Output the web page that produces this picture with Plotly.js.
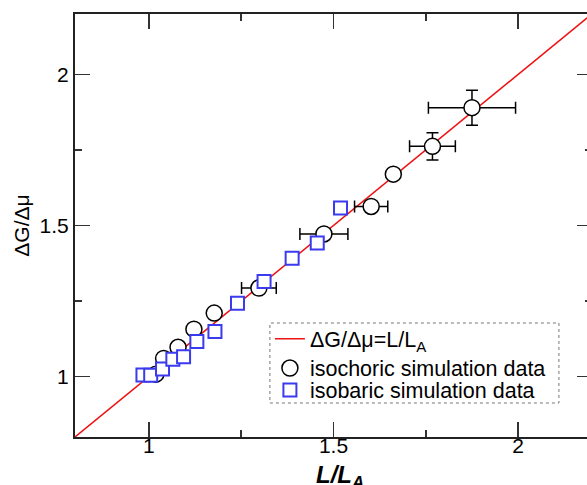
<!DOCTYPE html>
<html><head><meta charset="utf-8">
<script src="https://cdn.plot.ly/plotly-3.0.1.min.js"></script>
<style>html,body{margin:0;padding:0;overflow:hidden;background:#fff;}#chart{width:600px;height:485px;}</style>
</head><body><div id="chart"></div>
<script>
// Reference line ΔG/Δμ = L/L_A
const lineX = [0.8, 2.2];
const lineY = [0.8, 2.2];
// isochoric simulation data
const isoX = [1.019, 1.040, 1.079, 1.122, 1.177, 1.298, 1.474, 1.602, 1.662, 1.768, 1.875];
const isoY = [1.008, 1.060, 1.097, 1.157, 1.210, 1.293, 1.472, 1.563, 1.670, 1.762, 1.890];
const isoXerr = [0, 0, 0, 0, 0, 0.047, 0.065, 0.045, 0, 0.062, 0.118];
const isoYerr = [0, 0, 0, 0, 0, 0, 0, 0, 0, 0.045, 0.058];
// isobaric simulation data
const barX = [0.984, 1.005, 1.037, 1.065, 1.094, 1.130, 1.179, 1.240, 1.312, 1.388, 1.456, 1.519];
const barY = [1.005, 1.004, 1.025, 1.057, 1.066, 1.116, 1.149, 1.243, 1.315, 1.392, 1.442, 1.558];
// tick labels
const tickVals = [1, 1.5, 2];
const tickText = ['1', '1.5', '2'];
const axisMin = 0.8, axisMax = 2.2;

const FONT = 'Liberation Sans, Arial, sans-serif';
const traces = [
  {x: lineX, y: lineY, mode: 'lines', name: 'ΔG/Δμ=L/L<sub>A</sub>', legend: 'legend',
   line: {color: '#ee1111', width: 1.5}},
  {x: isoX, y: isoY, mode: 'markers', name: 'isochoric simulation data', legend: 'legend2',
   marker: {symbol: 'circle', size: 16, color: '#ffffff', line: {color: '#000000', width: 1.5}},
   error_x: {type: 'data', array: isoXerr, color: '#000', thickness: 1.5, width: 6},
   error_y: {type: 'data', array: isoYerr, color: '#000', thickness: 1.5, width: 6}},
  {x: barX, y: barY, mode: 'markers', name: 'isobaric simulation data', legend: 'legend3',
   marker: {symbol: 'square', size: 13, color: '#ffffff', line: {color: '#3a3aee', width: 2}}},
  // x tick labels, drawn through the x scale just below the axis
  {x: tickVals, y: tickVals.map(() => axisMin), mode: 'text', text: tickText,
   textposition: 'bottom center', cliponaxis: false, showlegend: false, hoverinfo: 'skip',
   textfont: {family: FONT, size: 21, color: '#000'}}
];

const axisCommon = {
  range: [axisMin, axisMax], showgrid: false, zeroline: false,
  showline: true, linecolor: '#222', linewidth: 2, mirror: 'ticks',
  ticks: 'inside', ticklen: 15, tickwidth: 1.5, tickcolor: '#333',
  tickvals: tickVals, ticktext: tickText,
  minor: {tickvals: [1.25, 1.75], ticklen: 7, tickwidth: 1.5, tickcolor: '#333', ticks: 'inside'},
  tickfont: {family: FONT, size: 21, color: '#000'}
};

function leg(y) {
  return {x: 0.377, y: y, xanchor: 'left', yanchor: 'middle', bgcolor: 'rgba(255,255,255,0)',
    borderwidth: 0, font: {family: FONT, size: 21.5, color: '#000'}, tracegroupgap: 0, itemwidth: 30};
}

const layout = {
  width: 600, height: 485,
  margin: {l: 75, r: 8, t: 14, b: 48},
  paper_bgcolor: '#fff', plot_bgcolor: '#fff',
  showlegend: true,
  xaxis: Object.assign({}, axisCommon, {showticklabels: false}),
  yaxis: Object.assign({}, axisCommon, {
    title: {text: 'ΔG/Δμ', font: {family: FONT, size: 21, color: '#000'}, standoff: 4}
  }),
  legend: leg(0.232),
  legend2: leg(0.163),
  legend3: leg(0.111),
  annotations: [{text: '<b><i>L/L<sub>A</sub></i></b>', xref: 'paper', yref: 'paper',
    x: 0.512, y: -0.055, xanchor: 'center', yanchor: 'top', showarrow: false, borderpad: 0,
    font: {family: FONT, size: 24, color: '#000'}}],
  shapes: [{type: 'rect', xref: 'paper', yref: 'paper', x0: 0.377, x1: 0.936, y0: 0.0804, y1: 0.2695,
    line: {color: '#777', width: 1, dash: 'dot'}, fillcolor: 'rgba(0,0,0,0)', layer: 'below'}]
};

Plotly.newPlot('chart', traces, layout, {displayModeBar: false, staticPlot: true});
</script></body></html>
